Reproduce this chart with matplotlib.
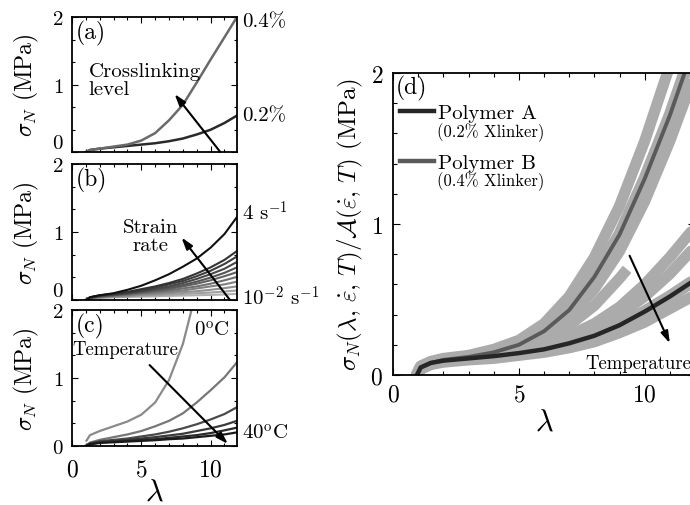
import numpy as np
import matplotlib
matplotlib.use("Agg")
from matplotlib import pyplot as plt
from matplotlib.lines import Line2D
from matplotlib.ticker import MultipleLocator

plt.rcParams['font.family'] = ['cmr10', 'DejaVu Serif']
plt.rcParams['mathtext.fontset'] = 'cm'
plt.rcParams['axes.formatter.use_mathtext'] = True
plt.rcParams['axes.unicode_minus'] = False

# stretch grid shared by the small panels
lam = [1.0, 1.3, 2, 3, 4, 5, 6, 7, 8, 9, 10, 11, 11.9]

# (a) crosslinking level
a_04 = [0.0, 0.03, 0.05, 0.08, 0.11, 0.17, 0.28, 0.47, 0.7, 1.03, 1.37, 1.7, 2.0]
a_02 = [0.0, 0.03, 0.05, 0.07, 0.09, 0.11, 0.13, 0.16, 0.2, 0.26, 0.33, 0.43, 0.54]

# (b) strain rate, 4 s^-1 down to 10^-2 s^-1
b_curves = [
    [0, 0.04, 0.07, 0.1, 0.15, 0.21, 0.29, 0.38, 0.49, 0.61, 0.77, 0.97, 1.22],
    [0, 0.04, 0.07, 0.09, 0.12, 0.16, 0.2, 0.25, 0.31, 0.39, 0.48, 0.59, 0.72],
    [0, 0.04, 0.065, 0.085, 0.11, 0.14, 0.18, 0.23, 0.28, 0.35, 0.43, 0.53, 0.64],
    [0, 0.035, 0.06, 0.08, 0.1, 0.13, 0.16, 0.2, 0.25, 0.31, 0.38, 0.46, 0.56],
    [0, 0.035, 0.055, 0.075, 0.095, 0.12, 0.15, 0.18, 0.22, 0.27, 0.33, 0.4, 0.48],
    [0, 0.03, 0.05, 0.07, 0.09, 0.11, 0.13, 0.16, 0.2, 0.24, 0.29, 0.35, 0.41],
    [0, 0.03, 0.05, 0.065, 0.08, 0.1, 0.12, 0.14, 0.17, 0.2, 0.24, 0.29, 0.34],
    [0, 0.025, 0.045, 0.06, 0.07, 0.09, 0.1, 0.12, 0.14, 0.17, 0.2, 0.23, 0.27],
    [0, 0.025, 0.04, 0.05, 0.06, 0.075, 0.085, 0.1, 0.115, 0.13, 0.15, 0.175, 0.2],
    [0, 0.02, 0.035, 0.045, 0.055, 0.065, 0.07, 0.08, 0.09, 0.1, 0.11, 0.125, 0.14],
    [0, 0.02, 0.03, 0.04, 0.045, 0.05, 0.055, 0.06, 0.065, 0.07, 0.075, 0.082, 0.09],
]
b_colors = ['#111111', '#333333', '#3d3d3d', '#484848', '#555555', '#626262',
            '#707070', '#808080', '#909090', '#a0a0a0', '#b0b0b0']

# (c) temperature, 0 C down to 40 C
lam_c0 = [1.05, 1.3, 2, 3, 4, 5, 6, 7, 8, 9]
c_0C = [0.08, 0.16, 0.22, 0.29, 0.36, 0.46, 0.64, 0.97, 1.5, 2.3]
c_curves = [
    [0.0, 0.05, 0.09, 0.13, 0.17, 0.22, 0.29, 0.37, 0.48, 0.64, 0.82, 1.01, 1.23],
    [0, 0.04, 0.07, 0.09, 0.11, 0.14, 0.17, 0.21, 0.26, 0.32, 0.39, 0.47, 0.57],
    [0, 0.035, 0.06, 0.075, 0.09, 0.11, 0.13, 0.155, 0.18, 0.22, 0.26, 0.31, 0.37],
    [0, 0.03, 0.05, 0.065, 0.075, 0.09, 0.1, 0.12, 0.14, 0.16, 0.19, 0.23, 0.27],
    [0, 0.025, 0.045, 0.055, 0.065, 0.075, 0.085, 0.1, 0.11, 0.13, 0.15, 0.17, 0.2],
]
c_colors = ['#777777', '#4a4a4a', '#3a3a3a', '#2a2a2a', '#1a1a1a']

# (d) collapsed curves
lam_d = [0.95, 1.1, 1.5, 2, 3, 4, 5, 6, 7, 8, 9, 10, 11, 12]
d_B = [0.0, 0.05, 0.08, 0.10, 0.12, 0.15, 0.2, 0.29, 0.43, 0.65, 0.93, 1.3, 1.72, 2.2]
d_A = [0.0, 0.05, 0.08, 0.095, 0.11, 0.125, 0.145, 0.17, 0.21, 0.26, 0.33, 0.42, 0.52, 0.63]
d_light = [
    [0.0, 0.06, 0.09, 0.11, 0.13, 0.17, 0.23, 0.34, 0.52, 0.78, 1.12, 1.55, 2.05, 2.5],
    [0.0, 0.04, 0.07, 0.09, 0.11, 0.14, 0.18, 0.26, 0.38, 0.57, 0.82, 1.15, 1.55, 2.0],
    [0, 0.05, 0.08, 0.1, 0.115, 0.135, 0.16, 0.2, 0.26, 0.34, 0.45, 0.6, 0.78, 0.98],
    [0, 0.05, 0.08, 0.1, 0.115, 0.13, 0.155, 0.19, 0.24, 0.31, 0.4, 0.52, 0.67, 0.85],
    [0, 0.04, 0.07, 0.085, 0.1, 0.11, 0.13, 0.15, 0.18, 0.22, 0.28, 0.35, 0.44, 0.53],
]
lam_short = [0.95, 1.1, 1.5, 2, 3, 4, 5, 6, 7, 8, 9, 9.3]
d_short = [0.0, 0.05, 0.08, 0.1, 0.12, 0.14, 0.18, 0.24, 0.33, 0.46, 0.64, 0.7]


def style(ax, show_x=False):
    ax.set_xlim(0, 11.9)
    ax.set_ylim(0, 2)
    ax.set_yticks([0, 1, 2])
    ax.set_xticks([0, 5, 10])
    ax.xaxis.set_minor_locator(MultipleLocator(1))
    ax.yaxis.set_minor_locator(MultipleLocator(1 / 3))
    ax.tick_params(which='both', direction='in', top=True, right=True, width=0.8)
    ax.tick_params(axis='y', labelsize=15, pad=6)
    ax.tick_params(axis='x', labelsize=17, pad=9)
    ax.tick_params(which='major', length=4)
    ax.tick_params(which='minor', length=2.5)
    if not show_x:
        ax.tick_params(labelbottom=False)
        # lift the "0" so it clears the "2" of the panel below
        ax.yaxis.get_major_ticks()[0].label1.set_va('bottom')
    for s in ax.spines.values():
        s.set_linewidth(1.3)
    ax.set_ylabel(r'$\sigma_N$ (MPa)', fontsize=17, labelpad=8)


fig = plt.figure(figsize=(6.9, 5.06), dpi=100)

arrow = dict(arrowstyle='-|>,head_length=0.7,head_width=0.22', lw=1.5, color='k',
             shrinkA=0, shrinkB=0)

# (a)
ax_a = fig.add_axes([0.1043, 0.6976, 0.2391, 0.2668])
ax_a.plot(lam, a_02, color='#2a2a2a', lw=1.8)
ax_a.plot(lam, a_04, color='#6a6a6a', lw=1.8)
style(ax_a)
ax_a.text(0.02, 0.98, '(a)', transform=ax_a.transAxes, fontsize=17, va='top')
ax_a.text(1.2, 1.33, 'Crosslinking\nlevel', fontsize=15, va='top', linespacing=1.0)
ax_a.annotate('', xy=(7.4, 0.86), xytext=(10.7, 0.0), arrowprops=arrow,
              annotation_clip=False)
ax_a.text(12.3, 1.93, '0.4%', fontsize=15, va='center', clip_on=False)
ax_a.text(12.3, 0.55, '0.2%', fontsize=15, va='center', clip_on=False)

# (b)
ax_b = fig.add_axes([0.1043, 0.4051, 0.2391, 0.2688])
for y, c in zip(b_curves[::-1], b_colors[::-1]):
    ax_b.plot(lam, y, color=c, lw=1.5)
style(ax_b)
ax_b.text(0.02, 0.98, '(b)', transform=ax_b.transAxes, fontsize=17, va='top')
ax_b.text(5.7, 1.2, 'Strain\nrate', fontsize=15, va='top', ha='center', linespacing=1.0)
ax_b.annotate('', xy=(7.9, 0.92), xytext=(11.4, 0.0), arrowprops=arrow,
              annotation_clip=False)
ax_b.text(12.3, 1.3, r'4 s$^{\mathdefault{-1}}$', fontsize=15, va='center', clip_on=False)
ax_b.text(12.3, 0.05, r'10$^{\mathdefault{-2}}$ s$^{\mathdefault{-1}}$', fontsize=15,
          va='center', clip_on=False)

# (c)
ax_c = fig.add_axes([0.1043, 0.1166, 0.2391, 0.2688])
ax_c.plot(lam_c0, c_0C, color='#8a8a8a', lw=1.6)
for y, c in zip(c_curves, c_colors):
    ax_c.plot(lam, y, color=c, lw=1.6)
style(ax_c, show_x=True)
ax_c.set_xlabel(r'$\lambda$', fontsize=22, labelpad=-2)
ax_c.text(0.02, 0.98, '(c)', transform=ax_c.transAxes, fontsize=17, va='top')
ax_c.text(11.4, 1.72, r'0$^{\rm o}$C', fontsize=15, va='center', ha='right')
ax_c.text(0.0, 1.43, 'Temperature', fontsize=13.5, va='center')
ax_c.annotate('', xy=(11.25, 0.03), xytext=(5.6, 1.19), arrowprops=arrow,
              annotation_clip=False)
ax_c.text(12.3, 0.2, r'40$^{\rm o}$C', fontsize=15, va='center', clip_on=False)

# (d)
ax_d = fig.add_axes([0.5696, 0.2569, 0.4377, 0.5968])
for y in d_light:
    ax_d.plot(lam_d, y, color='#ababab', lw=8, solid_capstyle='round')
ax_d.plot(lam_short, d_short, color='#ababab', lw=8, solid_capstyle='butt')
ax_d.plot(lam_d, d_B, color='#ababab', lw=9, solid_capstyle='round')
ax_d.plot(lam_d, d_A, color='#ababab', lw=9, solid_capstyle='round')
ax_d.plot(lam_d, d_B, color='#5a5a5a', lw=2.8)
ax_d.plot(lam_d, d_A, color='#262626', lw=3.2)
ax_d.set_xlim(0, 12)
ax_d.set_ylim(0, 2)
ax_d.set_xticks([0, 5, 10])
ax_d.set_yticks([0, 1, 2])
ax_d.xaxis.set_minor_locator(MultipleLocator(1))
ax_d.yaxis.set_minor_locator(MultipleLocator(0.2))
ax_d.tick_params(which='both', direction='in', top=True, right=True, labelsize=17, width=0.8)
ax_d.tick_params(axis='y', pad=7)
ax_d.tick_params(axis='x', pad=6)
ax_d.tick_params(which='major', length=5)
ax_d.tick_params(which='minor', length=3)
for s in ax_d.spines.values():
    s.set_linewidth(1.3)
ax_d.set_xlabel(r'$\lambda$', fontsize=22, labelpad=2)
ax_d.set_ylabel(r'$\sigma_N(\lambda,\,\dot{\varepsilon},\,T)/\mathcal{A}(\dot{\varepsilon},\,T)$ (MPa)',
                fontsize=18, labelpad=4)
ax_d.text(0.01, 0.995, '(d)', transform=ax_d.transAxes, fontsize=17, va='top')
handles = [Line2D([], [], color='#262626', lw=3.2), Line2D([], [], color='#5a5a5a', lw=3.2)]
ax_d.legend(handles, ['Polymer A', 'Polymer B'], loc='upper left',
            bbox_to_anchor=(0.0, 0.923), frameon=False, fontsize=15,
            handlelength=1.6, handletextpad=0.2, labelspacing=1.5,
            borderaxespad=0.0, borderpad=0.35)
ax_d.text(0.147, 0.805, '(0.2% Xlinker)', transform=ax_d.transAxes, fontsize=12, va='center')
ax_d.text(0.147, 0.642, '(0.4% Xlinker)', transform=ax_d.transAxes, fontsize=12, va='center')
ax_d.annotate('', xy=(11.0, 0.21), xytext=(9.4, 0.79), arrowprops=arrow)
ax_d.text(7.65, 0.08, 'Temperature', fontsize=13.5, va='center')

fig.savefig('out.png', dpi=100)
